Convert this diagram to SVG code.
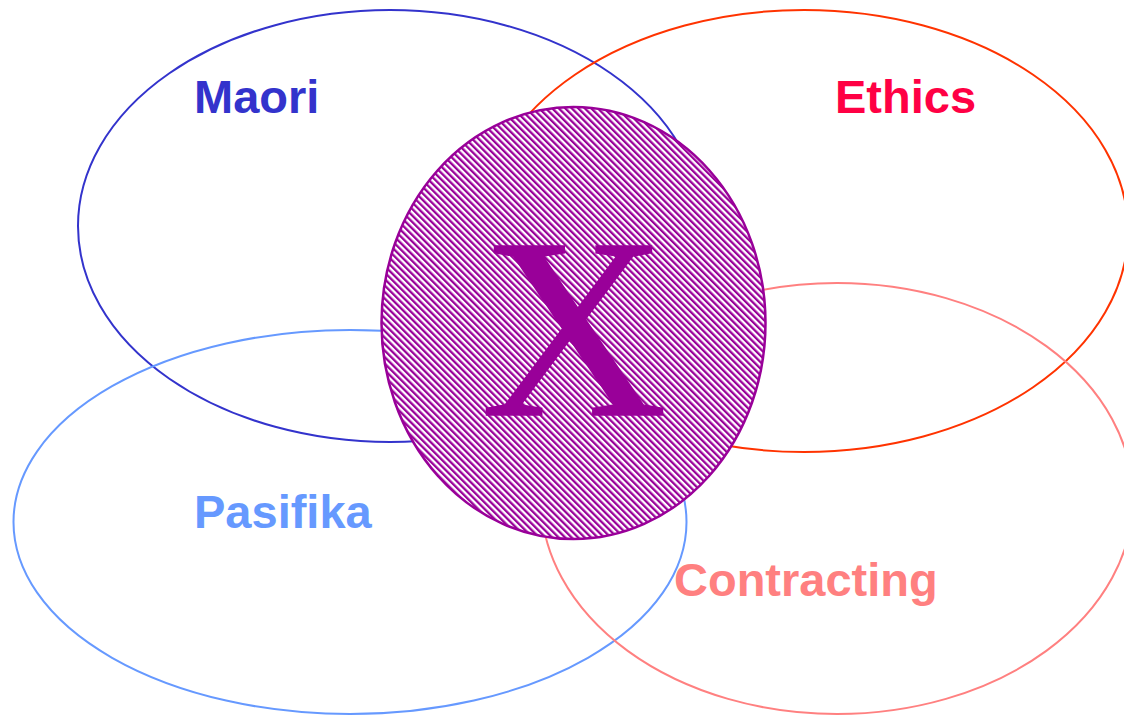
<svg xmlns="http://www.w3.org/2000/svg" width="1124" height="716" viewBox="0 0 1124 716">
<style>
.ring{fill:none;stroke-width:2}
.lbl{font-family:"Liberation Sans",Arial,sans-serif;font-weight:bold;font-size:47px}
</style>
<defs>
<pattern id="hatch" width="4.6" height="4.6" patternUnits="userSpaceOnUse" patternTransform="rotate(-45)">
<rect width="4.6" height="4.6" fill="#ffffff"/>
<rect width="2.3" height="4.6" fill="#990099"/>
</pattern>
</defs>
<rect width="1124" height="716" fill="#ffffff"/>
<g id="maori">
<ellipse class="ring" cx="390" cy="226" rx="312" ry="216" stroke="#3333cc"/>
<text class="lbl" x="194" y="113" fill="#3333cc">Maori</text>
</g>
<g id="ethics">
<ellipse class="ring" cx="804" cy="231" rx="324" ry="221" stroke="#ff3300"/>
<text class="lbl" x="835" y="113" fill="#ff0044">Ethics</text>
</g>
<g id="pasifika">
<ellipse class="ring" cx="350" cy="522" rx="336.5" ry="192" stroke="#6699ff"/>
<text class="lbl" x="194" y="528" fill="#6699ff">Pasifika</text>
</g>
<g id="contracting">
<ellipse class="ring" cx="837" cy="498.5" rx="296" ry="215.5" stroke="#ff8080"/>
<text class="lbl" x="674" y="596" fill="#ff8080" font-size="47.5">Contracting</text>
</g>
<g id="connectors"></g>
<g id="x">
<ellipse cx="573.5" cy="323" rx="192" ry="216" fill="url(#hatch)" stroke="#990099" stroke-width="2.5"/>
<text x="574" y="415" text-anchor="middle" font-family="'Liberation Serif','Times New Roman',serif" font-size="258" fill="#990099" stroke="#990099" stroke-width="1.5">X</text>
</g>
</svg>
